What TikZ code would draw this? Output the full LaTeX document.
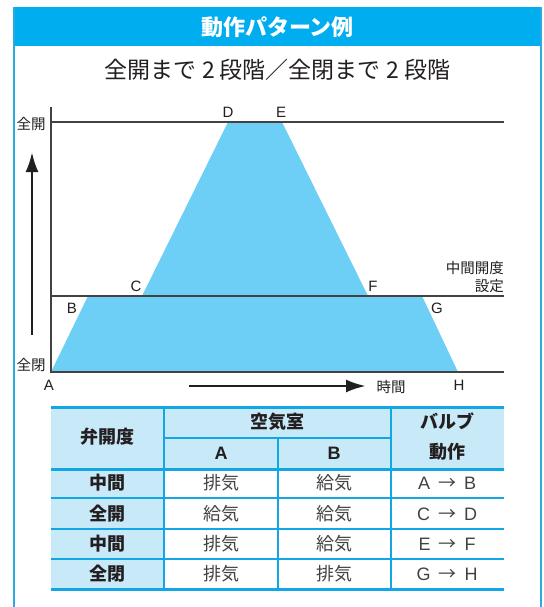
\documentclass[tikz,border=0pt]{standalone}
\usepackage{fontspec}
\setmainfont{Noto Sans CJK JP}
\newfontfamily\lat{Liberation Sans}
\usetikzlibrary{arrows.meta}
\definecolor{cyanband}{HTML}{00AEEF}
\definecolor{fillblue}{HTML}{6DCFF6}
\definecolor{lightblue}{HTML}{C8E9F8}
\definecolor{tline}{HTML}{12A6E4}
\definecolor{framec}{HTML}{29ABE2}
\definecolor{ink}{HTML}{231F20}
\begin{document}
\begin{tikzpicture}[x=1pt,y=-1pt,
  lbl/.style={font=\lat\fontsize{15}{15}\selectfont, text=ink, inner sep=0pt},
  jl/.style={font=\fontsize{14.5}{15}\selectfont, text=ink, inner sep=0pt},
  axis/.style={draw=ink!85, line width=1.3pt},
  bigarrow/.style={line width=2.8pt, draw=ink, -{Latex[length=20pt,width=13pt]}},
  cellb/.style={font=\bfseries\fontsize{18}{18}\selectfont, text=ink, inner sep=0pt},
  cell/.style={font=\fontsize{18}{18}\selectfont, text=ink!85, inner sep=0pt},
  thick line/.style={draw=tline, line width=3pt},
  thin line/.style={draw=tline, line width=1.5pt},
]
\useasboundingbox (0,0) rectangle (543,607);
\fill[white] (0,0) rectangle (543,607);
% frame and header
\fill[cyanband] (14,7) rectangle (541,46);
\draw[framec, line width=1.8pt] (14,7) -- (14,607) (541,7) -- (541,607);
\node[font=\bfseries\fontsize{22}{22}\selectfont, text=white, inner sep=0pt] (title) at (277.5,27) {動作パターン例};
\node[font=\fontsize{23}{23}\selectfont, text=ink, inner sep=0pt] (sub) at (277.5,70) {全開まで 2 段階／全閉まで 2 段階};
% graph
\fill[fillblue] (51,372) -- (88,296) -- (142,296) -- (228,122) -- (282,122) -- (368,296) -- (422,296) -- (458,372) -- cycle;
\draw[axis] (51,107) -- (51,372) -- (504,372);
\draw[axis] (51,296) -- (504,296);
\draw[axis] (51,122) -- (504,122);
\coordinate (ua0) at (32,335);
\coordinate (ua1) at (32,152);
\draw[bigarrow] (ua0) -- (ua1);
\coordinate (ra0) at (189,386);
\coordinate (ra1) at (366,386);
\draw[bigarrow] (ra0) -- (ra1);
\node[jl] (fo) at (31,124) {全開};
\node[jl] (fc) at (31,365) {全閉};
\node[lbl] (lA) at (49,385) {A};
\node[lbl] (lB) at (72,308) {B};
\node[lbl] (lC) at (136,286) {C};
\node[lbl] (lD) at (228,112) {D};
\node[lbl] (lE) at (281,112) {E};
\node[lbl] (lF) at (373,286) {F};
\node[lbl] (lG) at (437,308) {G};
\node[lbl] (lH) at (459,385) {H};
\node[jl] (time) at (391,387) {時間};
\node[jl, anchor=east] (mid1) at (504,268) {中間開度};
\node[jl, anchor=east] (mid2) at (504,286) {設定};
% table
\fill[lightblue] (51,407) rectangle (504,469);
\fill[lightblue] (51,469) rectangle (164,589);
\draw[thin line] (51,498) -- (504,498) (51,529) -- (504,529) (51,559) -- (504,559);
\draw[tline, line width=1.2pt] (164,438) -- (391,438);
\draw[tline, line width=2pt] (164,407) -- (164,589) (391,407) -- (391,589) (278,438) -- (278,589);
\draw[thick line] (51,407) -- (504,407) (51,469) -- (504,469) (51,589) -- (504,589);
\node[cellb] (h1) at (107,437) {弁開度};
\node[cellb] (h2) at (277.5,422) {空気室};
\node[cellb, font=\lat\bfseries\fontsize{18}{18}\selectfont] (h2a) at (221,453) {A};
\node[cellb, font=\lat\bfseries\fontsize{18}{18}\selectfont] (h2b) at (334,453) {B};
\node[cellb, align=center, font=\bfseries\fontsize{18}{30}\selectfont] (h3) at (447,437) {バルブ\\動作};
\node[cellb] (r1c1) at (107,483) {中間};
\node[cellb] (r2c1) at (107,514) {全開};
\node[cellb] (r3c1) at (107,544) {中間};
\node[cellb] (r4c1) at (107,574) {全閉};
\node[cell] (r1c2) at (221,483) {排気};
\node[cell] (r2c2) at (221,514) {給気};
\node[cell] (r3c2) at (221,544) {排気};
\node[cell] (r4c2) at (221,574) {排気};
\node[cell] (r1c3) at (334,483) {給気};
\node[cell] (r2c3) at (334,514) {給気};
\node[cell] (r3c3) at (334,544) {給気};
\node[cell] (r4c3) at (334,574) {排気};
\node[cell] (r1c4) at (447,483) {{\lat A}\hspace{8pt}→\hspace{8pt}{\lat B}};
\node[cell] (r2c4) at (447,514) {{\lat C}\hspace{8pt}→\hspace{8pt}{\lat D}};
\node[cell] (r3c4) at (447,544) {{\lat E}\hspace{8pt}→\hspace{8pt}{\lat F}};
\node[cell] (r4c4) at (447,574) {{\lat G}\hspace{8pt}→\hspace{8pt}{\lat H}};
\end{tikzpicture}
\end{document}
